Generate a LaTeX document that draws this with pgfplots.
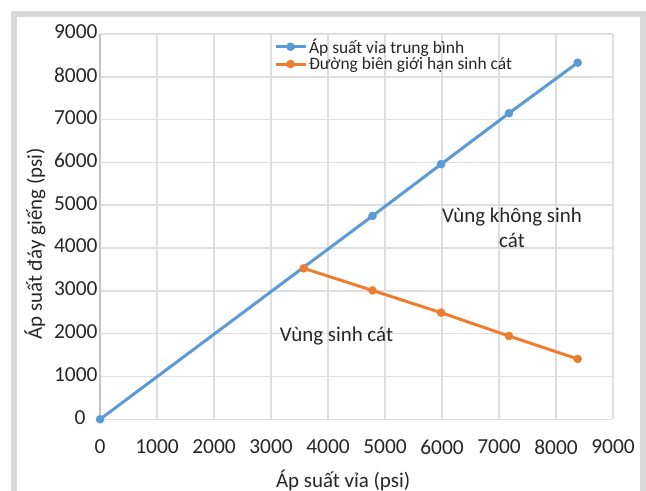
\documentclass[border=0pt]{standalone}
\usepackage{pgfplots}
\pgfplotsset{compat=1.18}
\usepackage{fontspec}
\setmainfont{Carlito}
\definecolor{myblue}{HTML}{5B9BD5}
\definecolor{myorange}{HTML}{ED7D31}
\definecolor{gridc}{HTML}{DEDEDE}
\definecolor{framec}{HTML}{D9D9D9}
\definecolor{axc}{HTML}{C4C4C4}
\definecolor{txt}{HTML}{262626}
\begin{document}
\begin{tikzpicture}[x=1bp,y=1bp]
\path[use as bounding box] (0,0) rectangle (646,491);
\begin{scope}
\clip (0,0) rectangle (646,491);
\draw[framec, line width=6bp] (14,-10) rectangle (643,477);
\end{scope}
\begin{axis}[
  at={(100bp,71.7bp)}, anchor=south west,
  scale only axis, width=513bp, height=385.3bp,
  xmin=0, xmax=9000, ymin=0, ymax=9000,
  xtick={0,1000,...,9000}, ytick={1000,2000,...,9000},
  extra y ticks={0},
  extra y tick style={yticklabel style={xshift=-12bp}},
  scaled ticks=false,
  /pgf/number format/assume math mode=true,
  /pgf/number format/set thousands separator={},
  grid=major,
  major grid style={gridc, line width=1.5bp},
  axis x line*=bottom, axis y line*=left,
  axis line style={axc, line width=1.5bp, -},
  major tick length=0pt,
  tick style={draw=none},
  ticklabel style={font=\fontsize{21.5}{25}\selectfont, text=txt},
  xticklabel style={yshift=-17bp},
  yticklabel style={yshift=2bp, xshift=1bp},
  xlabel={Áp suất vỉa (psi)},
  ylabel={Áp suất đáy giếng (psi)},
  label style={font=\fontsize{21}{25}\selectfont, text=txt},
  xlabel style={at={(axis description cs:0.474,0)}, anchor=center, yshift=-60.7bp},
  ylabel style={at={(axis description cs:-0.1267,0.455)}, anchor=center},
  clip=false,
  legend style={at={(axis description cs:0.337,0.996)}, anchor=north west,
    draw=none, fill=none, font=\fontsize{17.5}{19}\selectfont, text=txt,
    row sep=-1.5bp, inner sep=1bp},
  legend cell align=left,
  legend image code/.code={\draw[mark repeat=2, mark phase=2] plot coordinates {(0bp,0bp)(15bp,0bp)(30bp,0bp)};},
]
\addplot[myblue, line width=3bp, mark=*, mark size=4bp, mark options={fill=myblue, draw=myblue, line width=0.5bp}]
  coordinates {(0,0)(4780,4750)(5985,5960)(7175,7150)(8380,8330)};
\addlegendentry{Áp suất vỉa trung bình}
\addplot[myorange, line width=3bp, mark=*, mark size=4bp, mark options={fill=myorange, draw=myorange, line width=0.5bp}]
  coordinates {(3573,3527)(4780,3010)(5985,2490)(7175,1945)(8380,1410)};
\addlegendentry{Đường biên giới hạn sinh cát}
\node[font=\fontsize{21}{25}\selectfont, text=txt, align=center] at (axis cs:7228,4469) {Vùng không sinh\\cát};
\node[font=\fontsize{21}{25}\selectfont, text=txt] at (axis cs:4149,1946) {Vùng sinh cát};
\end{axis}
\end{tikzpicture}
\end{document}
